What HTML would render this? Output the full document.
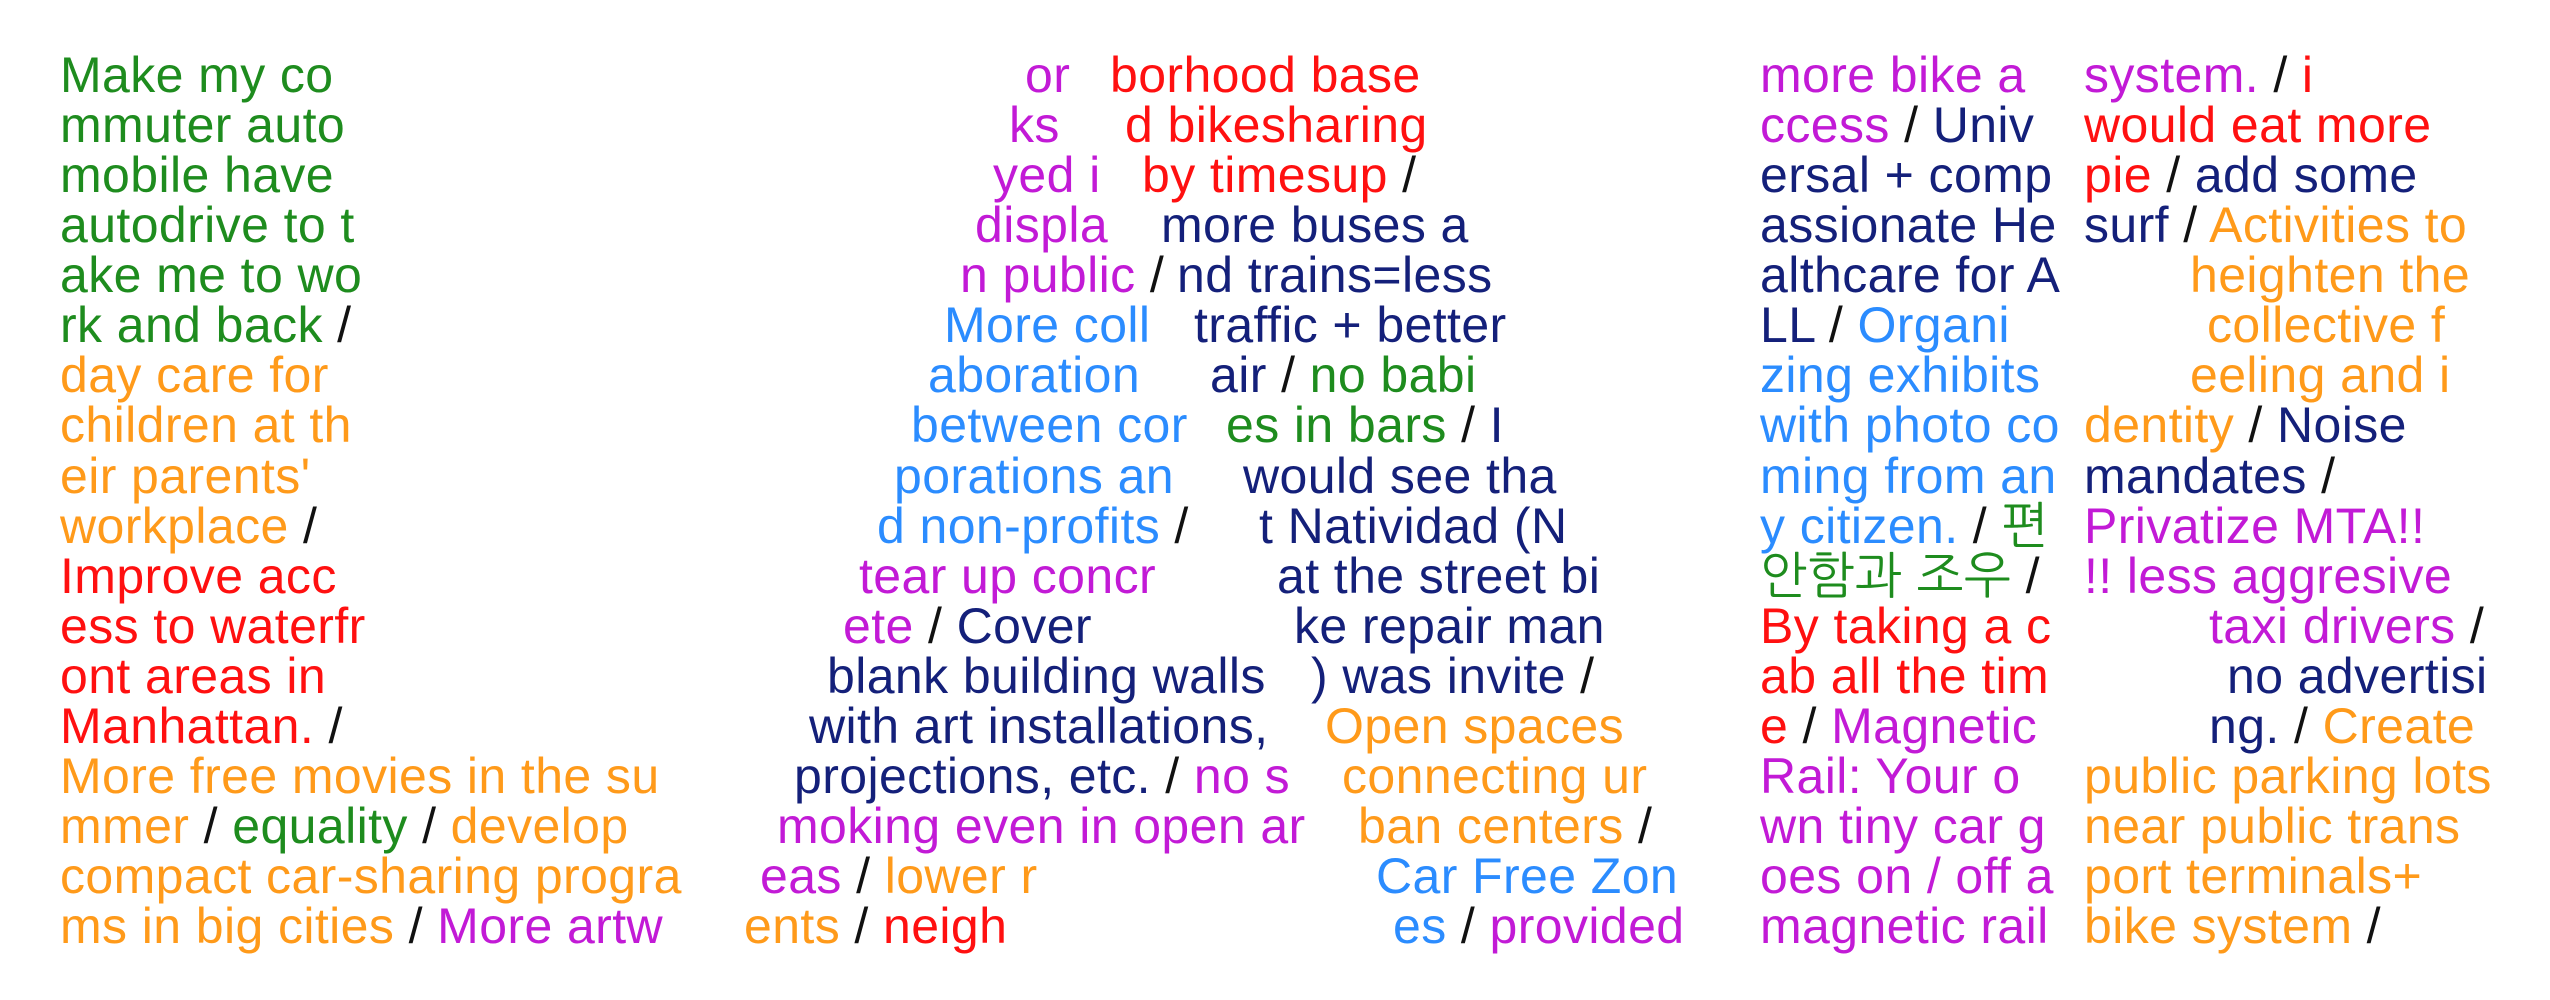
<!DOCTYPE html>
<html><head><meta charset="utf-8"><style>
html,body{margin:0;padding:0;background:#fff;width:2550px;height:1000px;overflow:hidden}
body{position:relative;font-family:"Liberation Sans","NanumGothic","Noto Sans CJK KR",sans-serif;font-size:50px;line-height:56px;letter-spacing:0.4px}
.l{position:absolute;white-space:pre}
.g{color:#1e8c1e}.o{color:#ff9a1a}.r{color:#ff1010}.p{color:#c21ad6}.n{color:#14207a}.b{color:#2b8cff}.k{color:#111}
</style></head><body>
<div id="c"></div>
<script>
const L=[
[60,0,'<span class=g>Make my co</span>'],
[60,1,'<span class=g>mmuter auto</span>'],
[60,2,'<span class=g>mobile have</span>'],
[60,3,'<span class=g>autodrive to t</span>'],
[60,4,'<span class=g>ake me to wo</span>'],
[60,5,'<span class=g>rk and back</span><span class=k> /</span>'],
[60,6,'<span class=o>day care for</span>'],
[60,7,'<span class=o>children at th</span>'],
[60,8,'<span class=o>eir parents\'</span>'],
[60,9,'<span class=o>workplace</span><span class=k> /</span>'],
[60,10,'<span class=r>Improve acc</span>'],
[60,11,'<span class=r>ess to waterfr</span>'],
[60,12,'<span class=r>ont areas in</span>'],
[60,13,'<span class=r>Manhattan.</span><span class=k> /</span>'],
[60,14,'<span class=o>More free movies in the su</span>'],
[60,15,'<span class=o>mmer</span><span class=k> / </span><span class=g>equality</span><span class=k> / </span><span class=o>develop</span>'],
[60,16,'<span class=o>compact car-sharing progra</span>'],
[60,17,'<span class=o>ms in big cities</span><span class=k> / </span><span class=p>More artw</span>'],
[1025,0,'<span class=p>or</span>'],
[1009,1,'<span class=p>ks</span>'],
[993,2,'<span class=p>yed i</span>'],
[975,3,'<span class=p>displa</span>'],
[960,4,'<span class=p>n public</span><span class=k> /</span>'],
[944,5,'<span class=b>More coll</span>'],
[928,6,'<span class=b>aboration</span>'],
[911,7,'<span class=b>between cor</span>'],
[894,8,'<span class=b>porations an</span>'],
[877,9,'<span class=b>d non-profits</span><span class=k> /</span>'],
[859,10,'<span class=p>tear up concr</span>'],
[843,11,'<span class=p>ete</span><span class=k> / </span><span class=n>Cover</span>'],
[827,12,'<span class=n>blank building walls</span>'],
[809,13,'<span class=n>with art installations,</span>'],
[794,14,'<span class=n>projections, etc.</span><span class=k> / </span><span class=p>no s</span>'],
[777,15,'<span class=p>moking even in open ar</span>'],
[760,16,'<span class=p>eas</span><span class=k> / </span><span class=o>lower r</span>'],
[744,17,'<span class=o>ents</span><span class=k> / </span><span class=r>neigh</span>'],
[1110,0,'<span class=r>borhood base</span>'],
[1125,1,'<span class=r>d bikesharing</span>'],
[1142,2,'<span class=r>by timesup</span><span class=k> /</span>'],
[1161,3,'<span class=n>more buses a</span>'],
[1177,4,'<span class=n>nd trains=less</span>'],
[1194,5,'<span class=n>traffic + better</span>'],
[1210,6,'<span class=n>air</span><span class=k> / </span><span class=g>no babi</span>'],
[1226,7,'<span class=g>es in bars</span><span class=k> / </span><span class=n>I</span>'],
[1243,8,'<span class=n>would see tha</span>'],
[1259,9,'<span class=n>t Natividad (N</span>'],
[1277,10,'<span class=n>at the street bi</span>'],
[1294,11,'<span class=n>ke repair man</span>'],
[1311,12,'<span class=n>) was invite</span><span class=k> /</span>'],
[1325,13,'<span class=o>Open spaces</span>'],
[1342,14,'<span class=o>connecting ur</span>'],
[1358,15,'<span class=o>ban centers</span><span class=k> /</span>'],
[1376,16,'<span class=b>Car Free Zon</span>'],
[1393,17,'<span class=b>es</span><span class=k> / </span><span class=p>provided</span>'],
[1760,0,'<span class=p>more bike a</span>'],
[1760,1,'<span class=p>ccess</span><span class=k> / </span><span class=n>Univ</span>'],
[1760,2,'<span class=n>ersal + comp</span>'],
[1760,3,'<span class=n>assionate He</span>'],
[1760,4,'<span class=n>althcare for A</span>'],
[1760,5,'<span class=n>LL</span><span class=k> / </span><span class=b>Organi</span>'],
[1760,6,'<span class=b>zing exhibits</span>'],
[1760,7,'<span class=b>with photo co</span>'],
[1760,8,'<span class=b>ming from an</span>'],
[1760,9,'<span class=b>y citizen.</span><span class=k> / </span><span class=g>편</span>'],
[1760,10,'<span class=g>안함과 조우</span><span class=k> /</span>'],
[1760,11,'<span class=r>By taking a c</span>'],
[1760,12,'<span class=r>ab all the tim</span>'],
[1760,13,'<span class=r>e</span><span class=k> / </span><span class=p>Magnetic</span>'],
[1760,14,'<span class=p>Rail: Your o</span>'],
[1760,15,'<span class=p>wn tiny car g</span>'],
[1760,16,'<span class=p>oes on / off a</span>'],
[1760,17,'<span class=p>magnetic rail</span>'],
[2084,0,'<span class=p>system.</span><span class=k> / </span><span class=r>i</span>'],
[2084,1,'<span class=r>would eat more</span>'],
[2084,2,'<span class=r>pie</span><span class=k> / </span><span class=n>add some</span>'],
[2084,3,'<span class=n>surf</span><span class=k> / </span><span class=o>Activities to</span>'],
[2190,4,'<span class=o>heighten the</span>'],
[2207,5,'<span class=o>collective f</span>'],
[2190,6,'<span class=o>eeling and i</span>'],
[2084,7,'<span class=o>dentity</span><span class=k> / </span><span class=n>Noise</span>'],
[2084,8,'<span class=n>mandates</span><span class=k> /</span>'],
[2084,9,'<span class=p>Privatize MTA!!</span>'],
[2084,10,'<span class=p>!! less aggresive</span>'],
[2209,11,'<span class=p>taxi drivers</span><span class=k> /</span>'],
[2227,12,'<span class=n>no advertisi</span>'],
[2209,13,'<span class=n>ng.</span><span class=k> / </span><span class=o>Create</span>'],
[2084,14,'<span class=o>public parking lots</span>'],
[2084,15,'<span class=o>near public trans</span>'],
[2084,16,'<span class=o>port terminals+</span>'],
[2084,17,'<span class=o>bike system</span><span class=k> /</span>']
];
let h='';
for(const [x,i,t] of L){h+='<div class="l" style="left:'+x+'px;top:'+(92+i*50.1-45.3).toFixed(1)+'px">'+t+'</div>';}
document.getElementById('c').innerHTML=h;
</script>
</body></html>
